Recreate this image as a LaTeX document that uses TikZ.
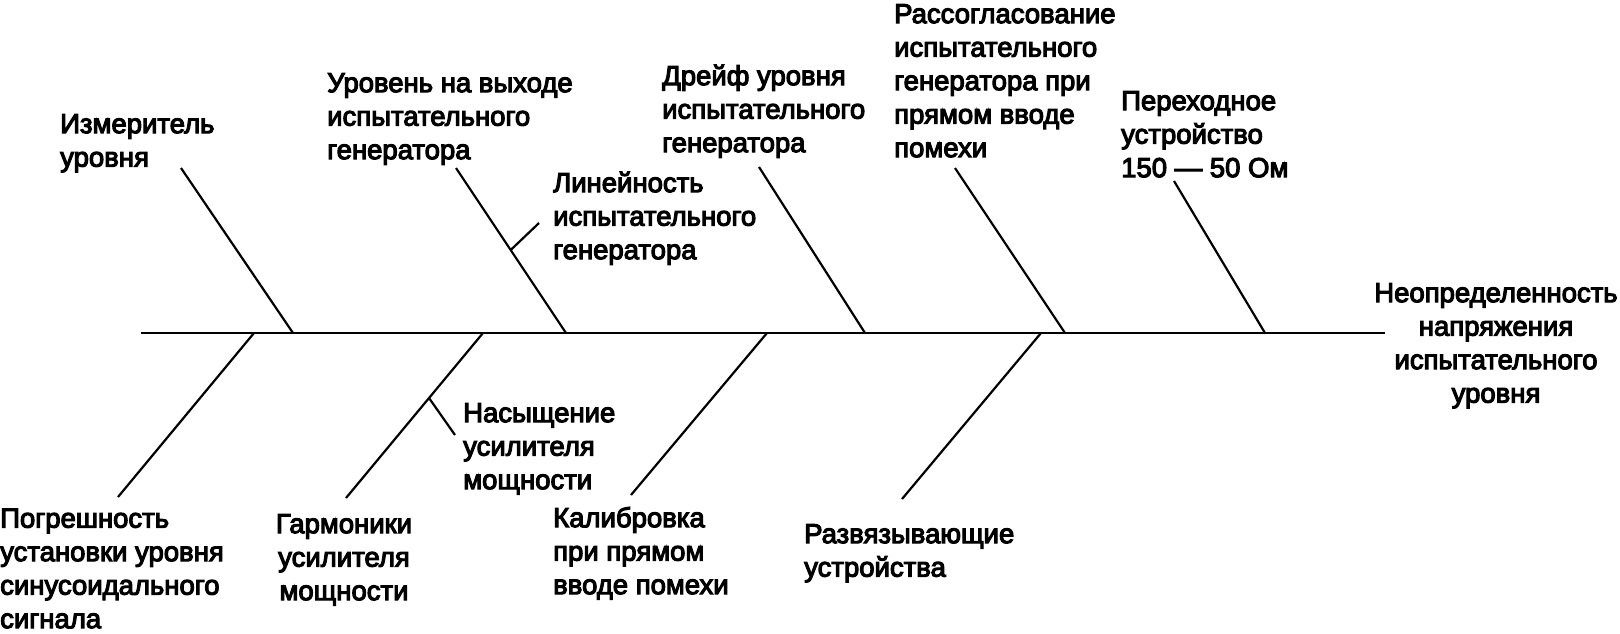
\documentclass[tikz,border=0pt]{standalone}
\usepackage{fontspec}
\setmainfont{Liberation Sans}[FakeBold=4]
\usetikzlibrary{calc}
\newcommand\lblfont{\fontsize{27.5}{33.5}\selectfont}
\tikzset{
  spine/.style={line width=2.8pt},
  bone/.style={line width=2.2pt},
  lbl/.style={font=\lblfont, align=left, inner sep=0pt, anchor=north west},
  lblc/.style={font=\lblfont, align=center, inner sep=0pt, anchor=north},
}
\begin{document}
\begin{tikzpicture}[x=1pt,y=-1pt]
\useasboundingbox (0,0) rectangle (1620,633);
% spine
\coordinate (s0) at (141,333);
\coordinate (s1) at (1385,333);
\draw[spine] (s0) -- (s1);
% top branch points on spine
\coordinate (t1) at (293,333);
\coordinate (t2) at (566,333);
\coordinate (t3) at (865,333);
\coordinate (t4) at (1065,333);
\coordinate (t5) at (1265,333);
% top ends
\coordinate (te1) at (181,168);
\coordinate (te2) at (456,168);
\coordinate (te3) at (759,167);
\coordinate (te4) at (955,168);
\coordinate (te5) at (1174,181);
% bottom branch points on spine
\coordinate (b1) at (254,333);
\coordinate (b2) at (483,333);
\coordinate (b3) at (767,333);
\coordinate (b4) at (1041,333);
% bottom ends
\coordinate (be1) at (118,497);
\coordinate (be2) at (346,498);
\coordinate (be3) at (631,495);
\coordinate (be4) at (902,499);
\foreach \i in {1,...,5} \draw[bone] (te\i) -- (t\i);
\foreach \i in {1,...,4} \draw[bone] (b\i) -- (be\i);
% sub-branches
\coordinate (lin0) at ($(te2)!0.497!(t2)$);
\coordinate (lin1) at (539,223);
\draw[bone] (lin0) -- (lin1);
\coordinate (nas0) at ($(b2)!0.394!(be2)$);
\coordinate (nas1) at (455,435);
\draw[bone] (nas0) -- (nas1);
% labels
\node[lbl] (L1) at (60,109.5) {\strut Измеритель\\уровня};
\node[lbl] (L2) at (327,68.5) {\strut Уровень на выходе\\испытательного\\генератора};
\node[lbl] (L2a) at (553,168.5) {\strut Линейность\\испытательного\\генератора};
\node[lbl] (L3) at (662,61.5) {\strut Дрейф уровня\\испытательного\\генератора};
\node[lbl] (L4) at (894,-0.5) {\strut Рассогласование\\испытательного\\генератора при\\прямом вводе\\помехи};
\node[lbl] (L5) at (1121,86.5) {\strut Переходное\\устройство\\150 — 50 Ом};
\node[lblc] (R) at (1496,278.5) {\strut Неопределенность\\напряжения\\испытательного\\уровня};
\node[lbl] (B1) at (0,504) {\strut Погрешность\\установки уровня\\синусоидального\\сигнала};
\node[lblc] (B2) at (344,509.5) {\strut Гармоники\\усилителя\\мощности};
\node[lbl] (B2a) at (463,398.5) {\strut Насыщение\\усилителя\\мощности};
\node[lbl] (B3) at (553,503.5) {\strut Калибровка\\при прямом\\вводе помехи};
\node[lbl] (B4) at (804,519.5) {\strut Развязывающие\\устройства};
\end{tikzpicture}
\end{document}
